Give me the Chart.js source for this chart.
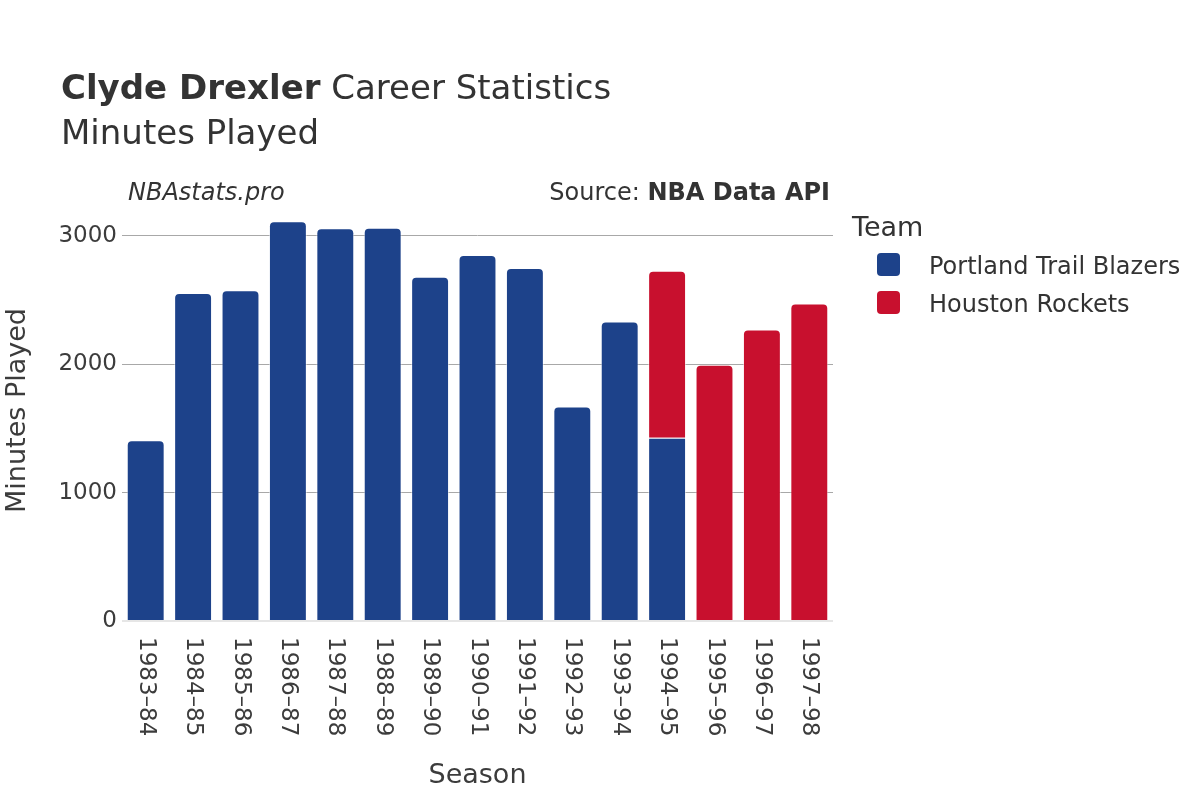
<!DOCTYPE html>
<html>
<head>
<meta charset="utf-8">
<script src="https://cdn.jsdelivr.net/npm/chart.js@4.4.1/dist/chart.umd.min.js"></script>
<style>
  body { margin: 0; background: #fff; font-family: 'DejaVu Sans', sans-serif; color: #333; }
  #wrap { position: relative; width: 1200px; height: 800px; overflow: hidden; }
  #wrap canvas { position: absolute; left: 0; top: 0; }
  .txt { position: absolute; line-height: 1; white-space: nowrap; }
  .title { left: 61px; top: 70px; font-size: 34px; color: #333; }
  .subtitle { left: 61px; top: 115px; font-size: 34px; color: #333; }
  .brand { left: 128px; top: 180px; font-size: 24px; font-style: italic; color: #333; }
  .source { right: 370px; top: 180px; font-size: 24px; color: #333; }
  .leg-title { left: 852px; top: 213px; font-size: 27px; color: #333; }
  .leg-item { left: 877px; font-size: 24px; color: #333; }
  .leg-item .sw { position: absolute; left: 0; width: 23px; height: 23px; border-radius: 4px; }
  .leg-item .lbl { position: absolute; left: 52px; }
</style>
</head>
<body>
<div id="wrap">
  <canvas id="chart" width="1200" height="800"></canvas>
  <div class="txt title"><b>Clyde Drexler</b> Career Statistics</div>
  <div class="txt subtitle">Minutes Played</div>
  <div class="txt brand">NBAstats.pro</div>
  <div class="txt source">Source: <b>NBA Data API</b></div>
  <div class="txt leg-title">Team</div>
  <div id="legend"></div>
</div>
<script>
// data
const seasons = ['1983–84', '1984–85', '1985–86', '1986–87', '1987–88', '1988–89', '1989–90',
  '1990–91', '1991–92', '1992–93', '1993–94', '1994–95', '1995–96', '1996–97', '1997–98'];
const portlandMinutes = [1408, 2555, 2576, 3114, 3060, 3064, 2683, 2852, 2751, 1671, 2334, 1428, null, null, null];
const houstonMinutes = [null, null, null, null, null, null, null, null, null, null, null, 1300, 1997, 2271, 2473];
const teamNames = ['Portland Trail Blazers', 'Houston Rockets'];
const teamColors = ['#1D428A', '#C8102E'];
const yTicks = [0, 1000, 2000, 3000];

// legend (html)
const legendEl = document.getElementById('legend');
teamNames.forEach((name, i) => {
  const baseline = 274 + i * 38;
  const item = document.createElement('div');
  item.className = 'txt leg-item';
  item.style.top = (baseline - 20.3) + 'px';
  item.innerHTML = `<span class="sw" style="background:${teamColors[i]};top:-1px"></span><span class="lbl">${name}</span>`;
  legendEl.appendChild(item);
});

// x labels rotated clockwise (top to bottom)
const seasonLabels = {
  id: 'seasonLabels',
  afterDraw(chart) {
    const { ctx, chartArea } = chart;
    const xs = chart.scales.x;
    ctx.save();
    ctx.font = '23px "DejaVu Sans"';
    ctx.fillStyle = '#3c3c3c';
    ctx.textAlign = 'left';
    ctx.textBaseline = 'middle';
    seasons.forEach((s, i) => {
      ctx.save();
      ctx.translate(xs.getPixelForTick(i), chartArea.bottom + 16);
      ctx.rotate(Math.PI / 2);
      ctx.fillText(s, 0, 0);
      ctx.restore();
    });
    ctx.restore();
  }
};

new Chart(document.getElementById('chart'), {
  type: 'bar',
  data: {
    labels: seasons,
    datasets: [
      {
        label: teamNames[0],
        data: portlandMinutes,
        backgroundColor: teamColors[0],
        borderColor: 'rgba(255,255,255,0.5)',
        borderWidth: 1,
        borderRadius: c => (houstonMinutes[c.dataIndex] != null ? 0 : 5),
      },
      {
        label: teamNames[1],
        data: houstonMinutes,
        backgroundColor: teamColors[1],
        borderColor: 'rgba(255,255,255,0.5)',
        borderWidth: 1,
        borderRadius: 5,
      },
    ],
  },
  options: {
    responsive: false,
    animation: false,
    layout: { padding: { top: 200, right: 367, left: 0, bottom: 0 } },
    datasets: { bar: { barPercentage: 0.8, categoryPercentage: 1 } },
    plugins: { legend: { display: false }, tooltip: { enabled: false } },
    scales: {
      x: {
        stacked: true,
        grid: { display: false },
        border: { display: false },
        ticks: { display: false, autoSkip: false },
        afterFit: s => { s.height = 179; },
        title: {
          display: true, text: 'Season', color: '#3c3c3c',
          font: { family: 'DejaVu Sans', size: 27 },
          padding: { top: 4, bottom: 8 },
        },
      },
      y: {
        stacked: true,
        min: 0,
        max: 3280,
        afterBuildTicks: s => { s.ticks = yTicks.map(v => ({ value: v })); },
        afterFit: s => { s.width = 122; },
        border: { display: false },
        grid: {
          drawTicks: false,
          color: c => (c.tick && c.tick.value === 0 ? '#e6e6e6' : '#a8a8a8'),
          lineWidth: c => (c.tick && c.tick.value === 0 ? 2 : 1),
        },
        ticks: {
          padding: 5, color: '#3c3c3c',
          font: { family: 'DejaVu Sans', size: 23 },
          callback: v => String(v),
        },
        title: {
          display: true, text: 'Minutes Played', color: '#3c3c3c',
          font: { family: 'DejaVu Sans', size: 27 },
          padding: { top: 2, bottom: 4 },
        },
      },
    },
  },
  plugins: [seasonLabels],
});
</script>
</body>
</html>
